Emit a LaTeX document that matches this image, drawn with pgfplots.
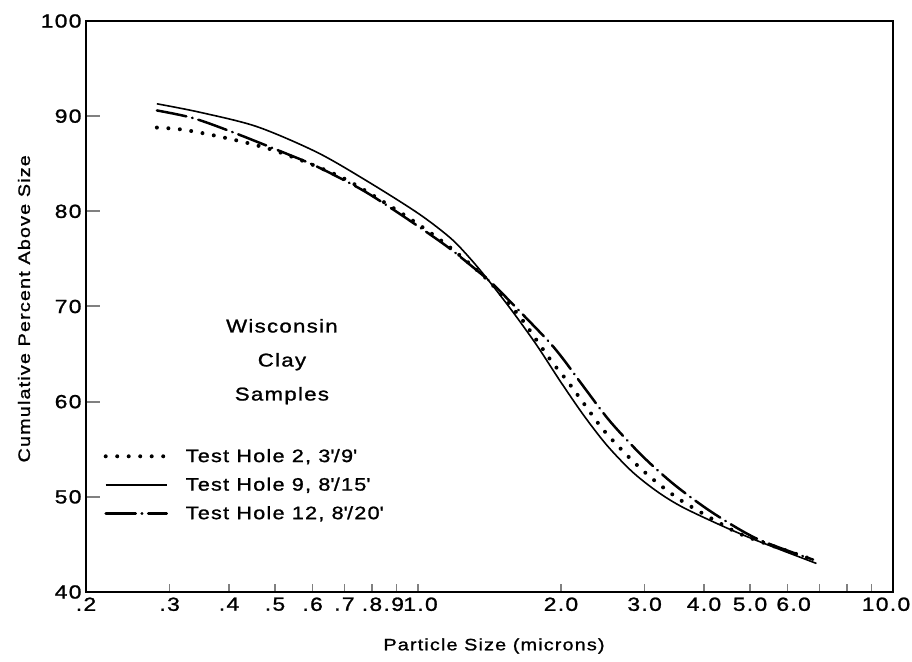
\documentclass[border=0pt]{standalone}
\usepackage{fontspec}
\setmainfont[FakeStretch=1.2,LetterSpace=7,FakeBold=1.2]{Liberation Sans}
\usepackage{pgfplots}
\pgfplotsset{compat=1.18}

% Test Hole 2, 3'/9'
\pgfplotstableread{
x y
0.282 88.8
0.318 88.6
0.370 88.0
0.436 87.2
0.505 86.3
0.613 84.7
0.72 83.1
0.93 79.7
1.10 77.2
1.25 75.0
1.42 72.5
1.64 68.9
1.78 66.4
1.92 64.1
2.06 62.2
2.22 60.0
2.45 57.1
2.75 54.4
3.08 52.1
3.56 49.7
4.33 47.2
4.93 45.8
6.79 43.4
}\holeii
% Test Hole 9, 8'/15'
\pgfplotstableread{
x y
0.282 91.3
0.348 90.4
0.458 88.9
0.613 86.2
0.78 83.2
1.0 79.8
1.17 77.2
1.29 75.0
1.42 72.5
1.58 69.5
1.78 65.9
1.99 62.2
2.23 58.6
2.50 55.4
2.83 52.6
3.20 50.5
3.61 48.9
4.39 46.9
5.17 45.4
6.9 43.0
}\holeix
% Test Hole 12, 8'/20'
\pgfplotstableread{
x y
0.282 90.6
0.336 89.8
0.408 88.3
0.52 86.2
0.613 84.7
0.766 82.2
0.93 79.5
1.13 76.6
1.25 74.9
1.42 72.6
1.53 71.0
1.87 66.5
2.02 64.5
2.23 61.6
2.54 57.9
2.98 54.2
3.48 51.2
4.18 48.3
5.17 45.6
6.79 43.4
}\holexii

\begin{document}
\begin{tikzpicture}
\useasboundingbox (-86pt,-69pt) rectangle (826pt,592pt);
\begin{axis}[
  at={(0,0)}, anchor=south west,
  scale only axis,
  width=807pt, height=571pt,
  xmode=log,
  xmin=0.2, xmax=10,
  ymin=40, ymax=100,
  xtick={0.2,0.3,0.4,0.5,0.6,0.7,0.8,0.9,1,2,3,4,5,6,7,8,9,10},
  xticklabels={.2,.3,.4,.5,.6,.7,.8,\hspace*{-5pt}.9,\hspace*{5pt}1.0,2.0,3.0,4.0,5.0,\hspace*{12pt}6.0,,,,10.0\hspace*{14pt}},
  minor xtick={0.3,0.4,0.5,0.6,0.7,0.8,0.9,1,2,3,4,5,6,7,8,9},
  ytick={40,50,60,70,80,90,100},
  yticklabels={40,50,60,70,80,90,100},
  tick pos=left,
  tick align=inside,
  major tick length=14pt,
  minor tick length=8pt,
  major x tick style={draw=none},
  minor x tick style={line width=1.1pt},
  major y tick style={line width=2pt},
  axis line style={line width=2.4pt},
  tick label style={font=\fontsize{19}{20}\selectfont},
  xticklabel style={yshift=-2pt},
  yticklabel style={xshift=-1pt},
  xlabel={Particle Size (microns)},
  ylabel={Cumulative Percent Above Size},
  label style={font=\fontsize{16.5}{18}\selectfont},
  xlabel style={at={(axis description cs:0.5056,-0.0946)},anchor=center},
  ylabel style={at={(axis description cs:-0.0768,0.496)},anchor=center},
  legend style={draw=none, fill=none,
    at={(axis description cs:0.018,0.256)}, anchor=north west,
    font=\fontsize{18}{20}\selectfont,
    row sep=12pt, nodes={inner sep=1pt}},
  legend cell align=left,
  legend image code/.code={\draw[#1] (0pt,0pt) -- (61pt,0pt);},
]
\addplot[black, line width=4pt, line cap=round, dash pattern=on 0pt off 11.5pt, smooth] table {\holeii};
\addlegendentry{\hspace{16pt}Test Hole 2, 3\textquotesingle/9\textquotesingle}
\addplot[black, line width=1.6pt, smooth] table {\holeix};
\addlegendentry{\hspace{16pt}Test Hole 9, 8\textquotesingle/15\textquotesingle}
\addplot[black, line width=2.5pt, line cap=round, dash pattern=on 30pt off 6pt on 0.5pt off 6pt, smooth] table {\holexii};
\addlegendentry{\hspace{16pt}Test Hole 12, 8\textquotesingle/20\textquotesingle}
\node[align=center, font=\fontsize{18.5}{34}\selectfont] at (axis cs:0.517,64.2) {Wisconsin\\Clay\\Samples};
\end{axis}
\end{tikzpicture}
\end{document}
